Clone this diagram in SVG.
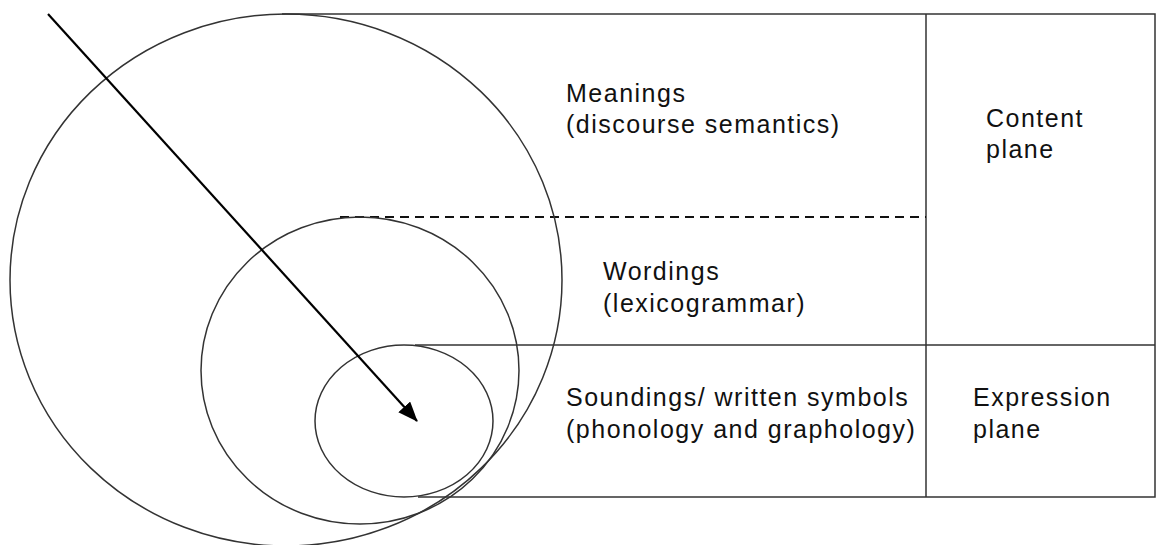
<svg xmlns="http://www.w3.org/2000/svg" width="1157" height="545" viewBox="0 0 1157 545">
<style>
.ln{fill:none;stroke:#333;stroke-width:1.5}
.dash{fill:none;stroke:#111;stroke-width:2;stroke-dasharray:9,6}
.t{font-family:"Liberation Sans",Arial,sans-serif;font-size:25px;fill:#111;letter-spacing:1.5px}
</style>
<defs>
<marker id="ah" markerWidth="10" markerHeight="8" refX="9" refY="4" orient="auto" markerUnits="userSpaceOnUse" viewBox="0 0 10 8">
<path d="M0,0 L10,4 L0,8 Z" fill="#000"/>
</marker>
<marker id="ah2" markerWidth="20" markerHeight="16" refX="19" refY="8" orient="auto" markerUnits="userSpaceOnUse">
<path d="M0,0 L20,8 L0,16 Z" fill="#000"/>
</marker>
</defs>
<rect width="1157" height="545" fill="#fff"/>
<g id="table">
<path class="ln" d="M282,14 H1155 V497 H418"/>
<path class="ln" d="M926,14 V497"/>
<path class="ln" d="M415,345 H1155"/>
<path class="dash" d="M340,217 H926"/>
</g>
<g id="circles">
<ellipse id="big" class="ln" cx="286" cy="280" rx="276" ry="266"/>
<ellipse id="medium" class="ln" cx="360" cy="370.5" rx="159" ry="153.5"/>
<ellipse id="small" class="ln" cx="404" cy="421" rx="89" ry="76"/>
</g>
<g id="connectors">
<line x1="48" y1="14" x2="417" y2="421" stroke="#000" stroke-width="2.2" marker-end="url(#ah2)"/>
</g>
<g id="meanings">
<text class="t" x="566" y="102">Meanings</text>
<text class="t" x="566" y="133">(discourse semantics)</text>
</g>
<g id="wordings">
<text class="t" x="603" y="280">Wordings</text>
<text class="t" x="603" y="312">(lexicogrammar)</text>
</g>
<g id="soundings">
<text class="t" x="566" y="406">Soundings/ written symbols</text>
<text class="t" x="566" y="438">(phonology and graphology)</text>
</g>
<g id="content">
<text class="t" x="986" y="127">Content</text>
<text class="t" x="986" y="158">plane</text>
</g>
<g id="expression">
<text class="t" x="973" y="406">Expression</text>
<text class="t" x="973" y="438">plane</text>
</g>
</svg>
